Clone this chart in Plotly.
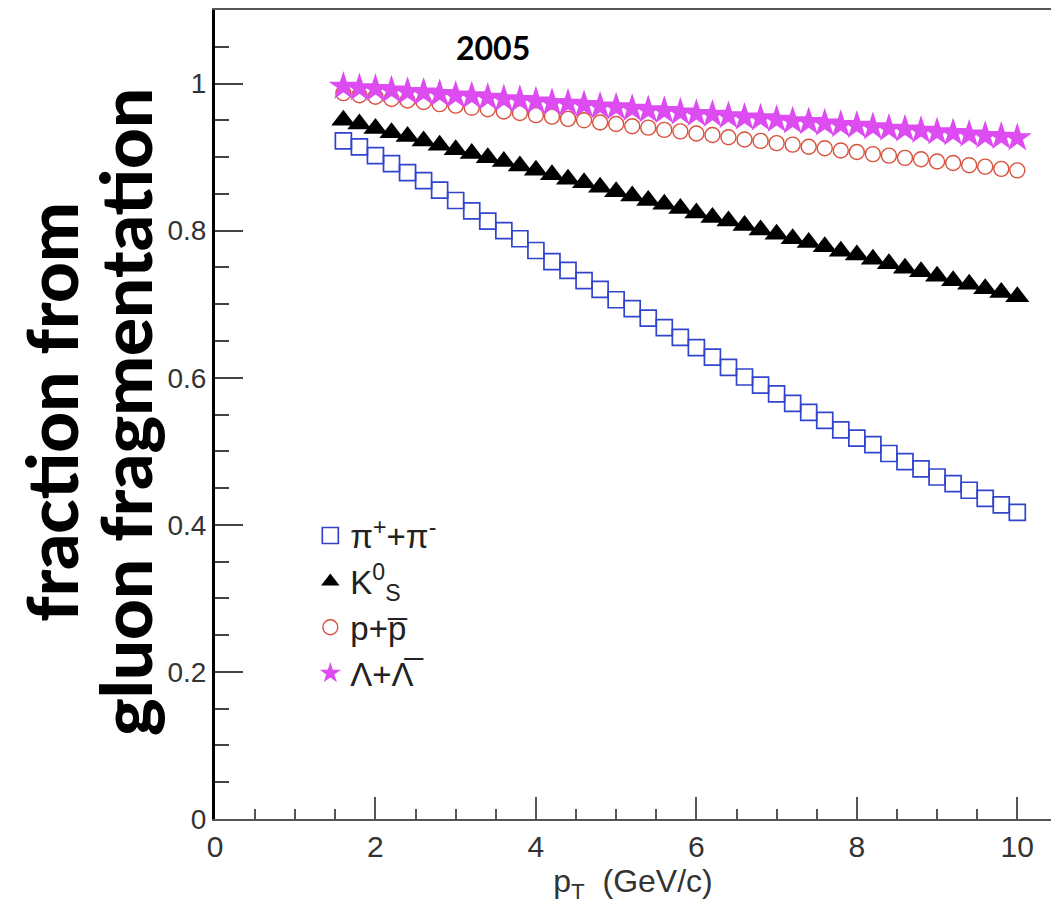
import plotly.graph_objects as go

pt = [1.6, 1.8, 2.0, 2.2, 2.4, 2.6, 2.8, 3.0, 3.2, 3.4, 3.6, 3.8, 4.0, 4.2, 4.4,
      4.6, 4.8, 5.0, 5.2, 5.4, 5.6, 5.8, 6.0, 6.2, 6.4, 6.6, 6.8, 7.0, 7.2, 7.4,
      7.6, 7.8, 8.0, 8.2, 8.4, 8.6, 8.8, 9.0, 9.2, 9.4, 9.6, 9.8, 10.0]

pion = [0.922, 0.914, 0.902, 0.891, 0.879, 0.868, 0.855, 0.841, 0.827, 0.813,
        0.800, 0.789, 0.773, 0.758, 0.746, 0.732, 0.720, 0.706, 0.694, 0.681,
        0.668, 0.655, 0.641, 0.628, 0.614, 0.601, 0.590, 0.578, 0.565, 0.553,
        0.542, 0.529, 0.518, 0.509, 0.497, 0.486, 0.476, 0.465, 0.456, 0.447,
        0.436, 0.427, 0.417]

kaon = [0.950, 0.945, 0.939, 0.933, 0.928, 0.922, 0.916, 0.910, 0.905, 0.899,
        0.894, 0.888, 0.882, 0.876, 0.870, 0.865, 0.859, 0.853, 0.847, 0.841,
        0.836, 0.830, 0.824, 0.818, 0.813, 0.807, 0.801, 0.795, 0.789, 0.784,
        0.778, 0.772, 0.767, 0.761, 0.755, 0.749, 0.744, 0.738, 0.732, 0.727,
        0.721, 0.716, 0.710]

proton = [0.987, 0.984, 0.982, 0.979, 0.977, 0.975, 0.972, 0.970, 0.967, 0.965,
          0.962, 0.960, 0.957, 0.955, 0.952, 0.950, 0.947, 0.945, 0.942, 0.940,
          0.937, 0.935, 0.932, 0.930, 0.927, 0.924, 0.922, 0.919, 0.917, 0.914,
          0.912, 0.909, 0.907, 0.904, 0.902, 0.899, 0.897, 0.894, 0.892, 0.889,
          0.887, 0.884, 0.882]

lam = [0.996, 0.994, 0.993, 0.991, 0.989, 0.988, 0.986, 0.984, 0.983, 0.981,
       0.979, 0.978, 0.976, 0.974, 0.973, 0.971, 0.969, 0.968, 0.966, 0.964,
       0.963, 0.961, 0.959, 0.958, 0.956, 0.954, 0.953, 0.951, 0.949, 0.948,
       0.946, 0.944, 0.943, 0.941, 0.939, 0.938, 0.936, 0.934, 0.933, 0.931,
       0.929, 0.928, 0.926]

names = ["π<sup>+</sup>+π<sup>-</sup>", "K<sup>0</sup><sub>S</sub>",
         "p+p\u0305", "Λ+Λ\u0305"]

x_ticks = [0, 2, 4, 6, 8, 10]
y_ticks = [0, 0.2, 0.4, 0.6, 0.8, 1.0]
y_tick_text = ["0", "0.2", "0.4", "0.6", "0.8", "1"]

fig = go.Figure()
fig.add_trace(go.Scatter(x=pt, y=pion, mode="markers", name=names[0],
                         marker=dict(symbol="square-open", size=16, color="#3344cc",
                                     line=dict(width=1.7, color="#3344cc"))))
fig.add_trace(go.Scatter(x=pt, y=kaon, mode="markers", name=names[1],
                         marker=dict(symbol="triangle-up", size=21, color="black")))
fig.add_trace(go.Scatter(x=pt, y=proton, mode="markers", name=names[2],
                         marker=dict(symbol="circle-open", size=15, color="#d9503c",
                                     line=dict(width=1.4, color="#d9503c"))))
fig.add_trace(go.Scatter(x=pt, y=lam, mode="markers", name=names[3],
                         marker=dict(symbol="star", size=22, color="#dd4cf0",
                                     line=dict(width=0))))

fig.update_layout(
    width=1051, height=906,
    margin=dict(l=215, r=0, t=10, b=87),
    paper_bgcolor="white", plot_bgcolor="white",
    font=dict(family="Liberation Sans, Arial, sans-serif", color="#333"),
    showlegend=True,
    legend=dict(x=0.114, y=0.385, xanchor="left", yanchor="top",
                bgcolor="rgba(0,0,0,0)", font=dict(size=33, color="#222"),
                tracegroupgap=0),
    xaxis=dict(range=[0, 10.42], showgrid=False, zeroline=False,
               showline=True, linecolor="#555", linewidth=2, mirror=True,
               ticks="inside", ticklen=22, tickwidth=1.5, tickcolor="#555",
               tickvals=x_ticks, tickfont=dict(size=30, color="#333"),
               minor=dict(ticks="inside", ticklen=10, tickwidth=1.5,
                          tickcolor="#555", dtick=0.5, showgrid=False),
               title=dict(text="p<sub>T</sub>  (GeV/c)", font=dict(size=32, color="#333"),
                          standoff=0)),
    yaxis=dict(range=[0, 1.1], showgrid=False, zeroline=False,
               showline=True, linecolor="black", linewidth=3, mirror=False,
               ticks="inside", ticklen=28, tickwidth=1.5, tickcolor="#444",
               tickvals=y_ticks, ticktext=y_tick_text,
               tickfont=dict(size=28, color="#333"),
               minor=dict(ticks="inside", ticklen=14, tickwidth=1.5,
                          tickcolor="#444", dtick=0.05, showgrid=False)),
)

title_font = dict(family="Lato, Open Sans, sans-serif", size=71, color="black", weight=900)
fig.add_annotation(text="fraction from",
                   xref="paper", yref="paper", x=(50 - 215) / 836, y=0.503,
                   xanchor="center", yanchor="middle", textangle=-90,
                   showarrow=False, font=title_font)
fig.add_annotation(text="gluon fragmentation",
                   xref="paper", yref="paper", x=(124 - 215) / 836, y=0.503,
                   xanchor="center", yanchor="middle", textangle=-90,
                   showarrow=False, font=title_font)
fig.add_annotation(text="<b>2005</b>", xref="paper", yref="paper",
                   x=(493 - 215) / 836, y=(819 - 47) / 809,
                   xanchor="center", yanchor="middle", showarrow=False,
                   font=dict(family="Lato, Open Sans, sans-serif", size=32, color="black"))

fig.write_html("out.html")
